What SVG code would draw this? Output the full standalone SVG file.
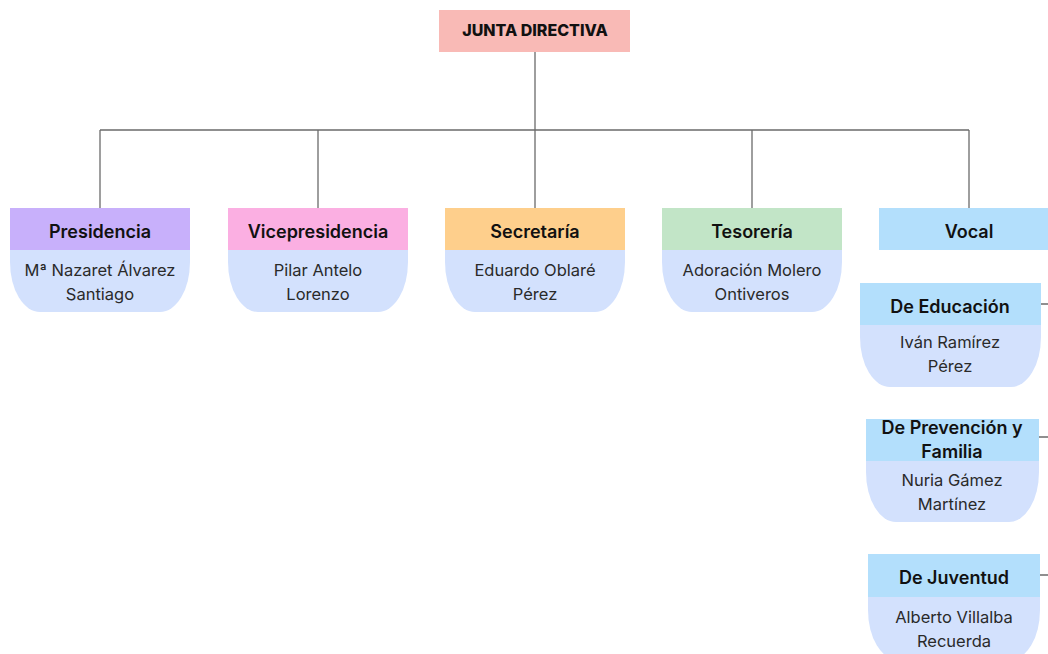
<svg xmlns="http://www.w3.org/2000/svg" width="1048" height="654" viewBox="0 0 1048 654">
<style>
.hd{font-family:Inter,"Liberation Sans",sans-serif;font-size:18px;font-weight:600;fill:#111;text-anchor:middle}
.bd{font-family:Inter,"Liberation Sans",sans-serif;font-size:16.5px;font-weight:400;fill:#2a2a2a;text-anchor:middle}
.body{fill:#d3e1fd}
.ln{stroke:#6b6b6b;stroke-width:1.3;fill:none}
</style>
<rect width="1048" height="654" fill="#fff"/>
<g id="connectors" class="ln">
<path d="M535 52V130M100 130H969M100 130V208M318 130V208M535 130V208M752 130V208M969 130V208"/>
<path d="M1041 304H1048M1039 437H1048M1040 575H1048"/>
</g>
<g id="junta">
<rect x="439" y="10" width="191" height="42" fill="#f9bab6"/>
<text x="535" y="36" font-family="Inter,'Liberation Sans',sans-serif" font-size="16" font-weight="800" fill="#111" text-anchor="middle">JUNTA DIRECTIVA</text>
</g>
<g id="presidencia">
<path class="body" d="M10 250H190V262A30 50 0 0 1 160 312H40A30 50 0 0 1 10 262Z"/>
<rect x="10" y="208" width="180" height="42" fill="#c8b0fb"/>
<text class="hd" x="100" y="238">Presidencia</text>
<text class="bd" x="100" y="276">Mª Nazaret Álvarez</text>
<text class="bd" x="100" y="300">Santiago</text>
</g>
<g id="vicepresidencia">
<path class="body" d="M228 250H408V262A30 50 0 0 1 378 312H258A30 50 0 0 1 228 262Z"/>
<rect x="228" y="208" width="180" height="42" fill="#fbafe2"/>
<text class="hd" x="318" y="238">Vicepresidencia</text>
<text class="bd" x="318" y="276">Pilar Antelo</text>
<text class="bd" x="318" y="300">Lorenzo</text>
</g>
<g id="secretaria">
<path class="body" d="M445 250H625V262A30 50 0 0 1 595 312H475A30 50 0 0 1 445 262Z"/>
<rect x="445" y="208" width="180" height="42" fill="#fecf8c"/>
<text class="hd" x="535" y="238">Secretaría</text>
<text class="bd" x="535" y="276">Eduardo Oblaré</text>
<text class="bd" x="535" y="300">Pérez</text>
</g>
<g id="tesoreria">
<path class="body" d="M662 250H842V262A30 50 0 0 1 812 312H692A30 50 0 0 1 662 262Z"/>
<rect x="662" y="208" width="180" height="42" fill="#c2e5c7"/>
<text class="hd" x="752" y="238">Tesorería</text>
<text class="bd" x="752" y="276">Adoración Molero</text>
<text class="bd" x="752" y="300">Ontiveros</text>
</g>
<g id="vocal">
<rect x="879" y="208" width="180" height="42" fill="#b3dffc"/>
<text class="hd" x="969" y="238">Vocal</text>
</g>
<g id="educacion">
<path class="body" d="M860 324H1041V337A30 50 0 0 1 1011 387H890A30 50 0 0 1 860 337Z"/>
<rect x="860" y="283" width="181" height="42" fill="#b3dffc"/>
<text class="hd" x="950" y="313">De Educación</text>
<text class="bd" x="950" y="348">Iván Ramírez</text>
<text class="bd" x="950" y="372">Pérez</text>
</g>
<g id="prevencion">
<path class="body" d="M866 460H1039V472A30 50 0 0 1 1009 522H896A30 50 0 0 1 866 472Z"/>
<rect x="866" y="419" width="173" height="42" fill="#b3dffc"/>
<text class="hd" x="952" y="434">De Prevención y</text>
<text class="hd" x="952" y="458">Familia</text>
<text class="bd" x="952" y="486">Nuria Gámez</text>
<text class="bd" x="952" y="510">Martínez</text>
</g>
<g id="juventud">
<path class="body" d="M868 596H1040V610A30 50 0 0 1 1010 660H898A30 50 0 0 1 868 610Z"/>
<rect x="868" y="554" width="172" height="43" fill="#b3dffc"/>
<text class="hd" x="954" y="584">De Juventud</text>
<text class="bd" x="954" y="623">Alberto Villalba</text>
<text class="bd" x="954" y="647">Recuerda</text>
</g>
</svg>
